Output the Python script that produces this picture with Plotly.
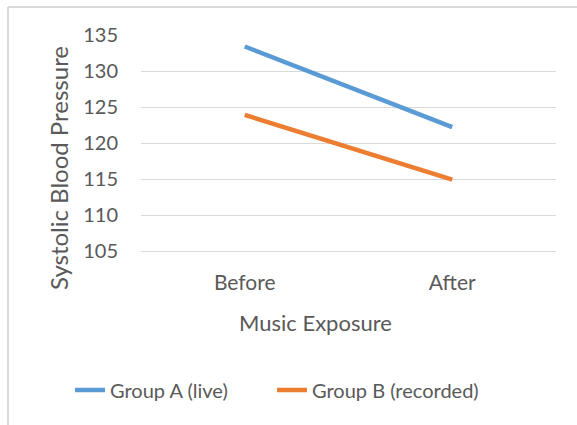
import plotly.graph_objects as go

# Systolic blood pressure before/after music exposure
categories = ["Before", "After"]
group_a_live = [133.4, 122.2]
group_b_recorded = [123.9, 114.9]
series_names = ["Group A (live)", "Group B (recorded)"]
y_ticks = [105, 110, 115, 120, 125, 130, 135]

W, H = 577, 425
ML, MR, MT, MB = 141, 21, 35, 174

FONT = "Lato"
TXT = "#595959"
GRID = "#D9D9D9"

fig = go.Figure()
fig.add_trace(go.Scatter(x=categories, y=group_a_live, name=series_names[0],
                         mode="lines", line=dict(color="#5B9BD5", width=4.5),
                         legend="legend"))
fig.add_trace(go.Scatter(x=categories, y=group_b_recorded, name=series_names[1],
                         mode="lines", line=dict(color="#ED7D31", width=4.5),
                         legend="legend2"))

legend_common = dict(orientation="h", xanchor="left", xref="container",
                     y=35 / H, yanchor="middle", yref="container",
                     font=dict(family=FONT, size=20, color=TXT),
                     bgcolor="rgba(0,0,0,0)")

fig.update_layout(
    width=W, height=H,
    margin=dict(l=ML, r=MR, t=MT, b=MB),
    paper_bgcolor="white", plot_bgcolor="white",
    font=dict(family=FONT, size=20, color=TXT),
    showlegend=True,
    legend=dict(x=70 / W, **legend_common),
    legend2=dict(x=272 / W, **legend_common),
    xaxis=dict(range=[-0.5, 1.5], showgrid=False, showline=True,
               linecolor=GRID, linewidth=1, ticks="", ticklabelstandoff=13,
               tickfont=dict(family=FONT, size=21, color=TXT), fixedrange=True),
    yaxis=dict(range=[105, 135], tickvals=y_ticks, showgrid=True,
               gridcolor=GRID, gridwidth=1, zeroline=False, showline=False,
               ticks="", ticklabelstandoff=22,
               tickfont=dict(family=FONT, size=20, color=TXT), fixedrange=True),
    annotations=[
        dict(text="Music Exposure", x=315, y=322, xref="paper", yref="paper",
             xanchor="center", yanchor="middle", showarrow=False,
             font=dict(family=FONT, size=22, color=TXT)),
        dict(text="Systolic Blood Pressure", x=58, y=168, textangle=-90,
             xref="paper", yref="paper", xanchor="center", yanchor="middle",
             showarrow=False, font=dict(family=FONT, size=24, color=TXT)),
    ],
    shapes=[
        dict(type="line", xref="paper", yref="paper", x0=0, x1=1, y0=0, y1=0,
             line=dict(color="#D9D9D9", width=2)),
        dict(type="line", xref="paper", yref="paper", x0=0, x1=0, y0=0, y1=1,
             line=dict(color="#D9D9D9", width=2)),
    ],
)

# Convert pixel positions of annotations and border lines to paper coords
pw, ph = W - ML - MR, H - MT - MB
for a in fig.layout.annotations:
    px, py = a.x, a.y
    a.x = (px - ML) / pw
    a.y = (H - MB - py) / ph
# chart border: top at y=7, left at x=8
fig.layout.shapes[0].update(x0=(8 - ML) / pw, x1=(W + 5 - ML) / pw,
                            y0=(H - MB - 7) / ph, y1=(H - MB - 7) / ph)
fig.layout.shapes[1].update(x0=(8 - ML) / pw, x1=(8 - ML) / pw,
                            y0=(H - MB - 7) / ph, y1=(H - MB - H - 5) / ph)

fig.write_html("out.html")
